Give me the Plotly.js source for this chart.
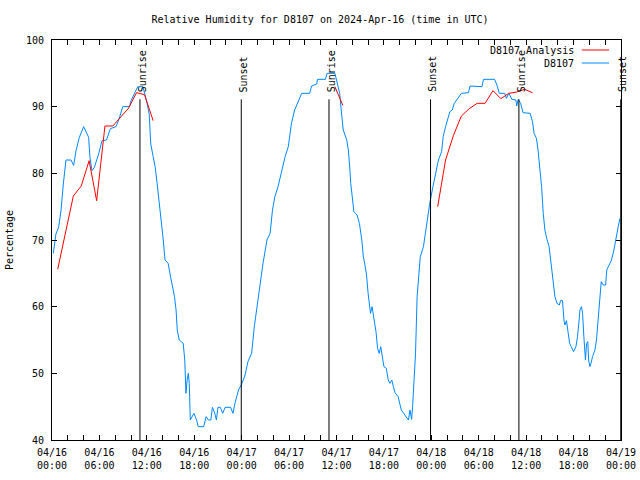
<!DOCTYPE html>
<html>
<head>
<meta charset="utf-8">
<script src="https://cdn.plot.ly/plotly-3.0.1.min.js"></script>
<style>html,body{margin:0;padding:0;background:#fff}#chart{width:640px;height:480px}</style>
</head>
<body>
<div id="chart"></div>
<script>
// Hours since 2024-04-16 00:00 UTC
const obsHours = [0.17,0.5,0.84,1.14,1.43,1.77,2.4,2.74,3.04,3.46,4.0,4.3,4.64,4.8,5.06,5.36,5.9,6.33,6.9,7.38,8.1,8.5,8.95,9.8,10.0,10.4,10.85,11.5,11.7,12.0,12.3,12.5,12.8,13.05,13.3,13.6,13.9,14.08,14.3,14.7,15.0,15.26,15.5,15.7,15.85,16.1,16.6,16.8,16.95,17.1,17.25,17.37,17.45,17.5,17.96,18.3,18.5,19.2,19.5,19.8,20.1,20.3,20.6,20.8,21.0,21.3,21.6,21.9,22.6,22.9,23.15,23.6,24.0,24.4,24.8,25.26,25.6,25.9,26.3,26.7,27.2,27.6,27.9,28.2,28.6,29.1,29.5,29.9,30.3,30.7,31.2,31.6,32.6,32.85,33.5,33.6,34.6,34.8,35.8,36.1,36.4,36.6,36.85,37.3,37.5,37.7,37.8,38.04,38.2,38.6,38.9,39.2,39.4,39.6,39.8,40.0,40.15,40.3,40.5,40.8,41.0,41.2,41.4,41.6,41.8,42.0,42.3,42.55,42.76,43.0,43.2,43.4,43.8,44.0,44.2,44.5,44.8,45.1,45.3,45.5,45.63,45.8,46.0,46.2,46.5,46.6,47.0,47.3,47.6,47.8,48.2,48.6,48.9,49.3,49.5,49.8,50.35,50.65,50.9,51.3,51.8,52.7,52.9,54.4,54.6,56.0,56.3,56.6,57.3,57.5,57.8,58.2,58.7,58.8,59.0,59.3,59.6,60.5,60.8,61.0,61.3,61.5,61.74,61.95,62.16,62.37,62.6,62.9,63.1,63.35,63.64,63.9,64.2,64.35,64.6,64.78,64.9,65.1,65.3,65.5,65.7,66.0,66.3,66.5,66.7,66.8,67.0,67.14,67.3,67.5,67.65,67.8,67.9,68.07,68.2,68.4,68.7,68.9,69.1,69.3,69.5,69.75,70.05,70.2,70.4,70.8,71.1,71.2,71.4,71.65,71.87];
const obsRH = [68,70.9,71.9,74.4,78.4,82,82,81.2,83.4,85.4,87,86.2,85.4,82.4,80.4,80.9,82.9,84.9,85,86.7,87,88.2,90,90,90.9,91.9,93,93,92.2,90.7,88.9,84.4,82.5,81,78.5,75.5,72.5,70,67,66.5,64.5,63,61.5,59.5,56.5,55,54.5,52,47,49,50,48.5,44.5,43,44,43,42,42,43.5,43,43,44.9,44,43,44.9,44.9,44,44.9,44.9,44,45.5,47.5,48.4,49.6,51.8,53,57,59.5,63.5,66.5,70,71,74.5,76.5,78,80.5,82.5,84,87.5,89.5,91,92,92,93.1,93.4,94.1,94.1,95,95,93.7,92,89.5,86.5,85,83.5,80.5,78.5,76,74.25,73.75,72.5,70,67.5,66.25,64.75,62,60,59,60,57.5,56.25,53.75,53,54,52.5,51,50.75,49,48.5,49,48,47.1,46.5,45.5,44.5,44,43.5,43,44.5,43.1,45,49,53,61.5,65.75,67.5,69,71.5,73.5,75.5,78,80.5,82,83.25,85.5,87,89.25,89.5,90.5,91.15,92,92.1,93.1,93,94.1,94.1,93.25,92,92,91.25,92,91.1,91,90.1,91.1,90.5,89.1,89,87.75,86,85.25,83.5,80.5,78,74,71.5,70.25,69,67,64,61.5,60.5,60.25,60.9,60.9,58,57.25,57.9,56.5,54.5,54,53.25,54,55.5,58,59.5,60,59,55.5,52,54.5,54.75,52,51,51.5,52.5,53.5,55,58,61.5,63.75,63.25,63.25,65.5,66,67,68.5,69.25,70.25,72,73.25];

// Analysis series (null = gap)
const anaHours = [0.72,1.7,2.7,3.7,4.7,5.65,6.7,7.7,8.7,9.7,10.7,11.7,12.8,null,35.8,36.8,null,48.8,49.8,50.8,51.8,52.8,53.8,54.8,55.8,56.8,57.8,58.8,59.8,60.8];
const anaRH = [65.6,71.1,76.6,78.1,81.9,75.9,87.1,87.1,88.5,89.8,92.1,91.8,87.9,null,93,90.2,null,75,82,85.7,88.6,89.7,90.5,90.5,92.4,91.2,92,92.2,92.6,92.1];

const sunTimes = [11.13,23.95,35.05,47.9,59.08,71.97];
const sunLabels = ["Sunrise","Sunset","Sunrise","Sunset","Sunrise","Sunset"];

const tickVals = [0,6,12,18,24,30,36,42,48,54,60,66,72];
const tickText = ["04/16<br>00:00","04/16<br>06:00","04/16<br>12:00","04/16<br>18:00","04/17<br>00:00","04/17<br>06:00","04/17<br>12:00","04/17<br>18:00","04/18<br>00:00","04/18<br>06:00","04/18<br>12:00","04/18<br>18:00","04/19<br>00:00"];

const FONT = "DejaVu Sans Mono";
const BLUE = "rgb(0,136,255)";
const RED = "rgb(255,0,0)";

const traces = [
  {x: obsHours, y: obsRH, type: 'scatter', mode: 'lines', name: 'D8107',
   line: {color: BLUE, width: 1}, showlegend: false},
  {x: anaHours, y: anaRH, type: 'scatter', mode: 'lines', name: 'D8107 Analysis',
   line: {color: RED, width: 1}, connectgaps: false, showlegend: false}
];

const shapes = sunTimes.map(t => ({type: 'line', xref: 'x', yref: 'y', x0: t, x1: t, y0: 40, y1: 91.1,
  line: {color: 'black', width: 1}, layer: 'above'}));
// legend samples
shapes.push({type:'line', xref:'paper', yref:'paper', x0:0.931, x1:0.979, y0:0.975, y1:0.975, line:{color:RED,width:1}});
shapes.push({type:'line', xref:'paper', yref:'paper', x0:0.931, x1:0.979, y0:0.9425, y1:0.9425, line:{color:BLUE,width:1}});

const annotations = sunTimes.map((t, i) => ({x: t, y: 91.85, xref: 'x', yref: 'y', text: sunLabels[i],
  textangle: -90, showarrow: false, xanchor: 'center', yanchor: 'bottom', xshift: 2,
  font: {family: FONT, size: 10, color: 'black'}}));
annotations.push({xref:'paper', yref:'paper', x:0.921, y:0.975, text:'D8107 Analysis', showarrow:false,
  xanchor:'right', yanchor:'middle', font:{family:FONT,size:10,color:'black'}});
annotations.push({xref:'paper', yref:'paper', x:0.921, y:0.9425, text:'D8107', showarrow:false,
  xanchor:'right', yanchor:'middle', font:{family:FONT,size:10,color:'black'}});

const layout = {
  width: 640, height: 480,
  margin: {l: 52, r: 19, t: 40, b: 40},
  paper_bgcolor: 'white', plot_bgcolor: 'white',
  font: {family: FONT, size: 10, color: 'black'},
  title: {text: 'Relative Humidity for D8107 on 2024-Apr-16 (time in UTC)', x: 0.5, xanchor: 'center',
          y: 0.96, yanchor: 'middle', font: {family: FONT, size: 10, color: 'black'}},
  xaxis: {range: [0, 72], tickmode: 'array', tickvals: tickVals, ticktext: tickText,
          ticks: 'inside', ticklen: 5, tickcolor: 'black', showline: true, linecolor: 'black', linewidth: 1,
          mirror: 'ticks', showgrid: false, zeroline: false, ticklabelstandoff: 3,
          minor: {dtick: 2, tick0: 0, ticks: 'inside', ticklen: 5, tickcolor: 'black', showgrid: false},
          fixedrange: true},
  yaxis: {range: [40, 100], dtick: 10, tick0: 40, ticks: 'inside', ticklen: 5, tickcolor: 'black',
          showline: true, linecolor: 'black', linewidth: 1, mirror: 'ticks', showgrid: false, zeroline: false,
          ticklabelstandoff: 5,
          title: {text: 'Percentage', font: {family: FONT, size: 10, color: 'black'}, standoff: 10}},
  shapes: shapes,
  annotations: annotations,
  showlegend: false
};

Plotly.newPlot('chart', traces, layout, {displayModeBar: false, staticPlot: true});
</script>
</body>
</html>
